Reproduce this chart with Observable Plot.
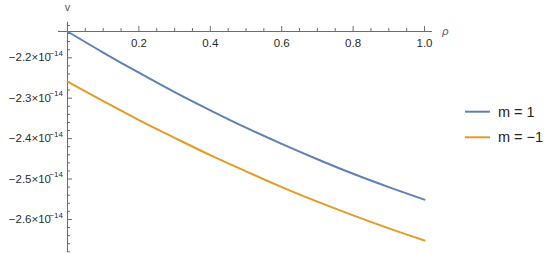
<!DOCTYPE html>
<html>
<head>
<meta charset="utf-8">
<script src="https://cdn.jsdelivr.net/npm/d3@7"></script>
<script src="https://cdn.jsdelivr.net/npm/@observablehq/plot@0.6"></script>
<style>
  html, body { margin: 0; padding: 0; background: #fff; }
  #chart { position: relative; width: 550px; height: 257px; }
</style>
</head>
<body>
<div id="chart"></div>
<script>
// ---- data (values in units of 1e-14) ----
const rho   = [0, 0.1, 0.2, 0.3, 0.4, 0.5, 0.6, 0.7, 0.8, 0.9, 1.0];
const vM1   = [-2.135, -2.187, -2.237, -2.285, -2.330, -2.373, -2.413, -2.451, -2.487, -2.520, -2.551];
const vMm1  = [-2.259, -2.307, -2.354, -2.398, -2.441, -2.481, -2.520, -2.556, -2.590, -2.622, -2.652];
const seriesNames  = ["m = 1", "m = \u22121"];
const seriesColors = ["#5E81B5", "#E19C24"];

const yMajor = [-2.2, -2.3, -2.4, -2.5, -2.6];
const yMajorLabels = ["\u22122.2\u00d710", "\u22122.3\u00d710", "\u22122.4\u00d710", "\u22122.5\u00d710", "\u22122.6\u00d710"];
const yExponent = "\u221214";
const yMinor = [-2.12, -2.14, -2.16, -2.18, -2.22, -2.24, -2.26, -2.28, -2.32, -2.34, -2.36, -2.38,
                -2.42, -2.44, -2.46, -2.48, -2.52, -2.54, -2.56, -2.58, -2.62, -2.64, -2.66, -2.68];
const xMajor = [0.2, 0.4, 0.6, 0.8, 1.0];
const xMajorLabels = ["0.2", "0.4", "0.6", "0.8", "1.0"];
const xMinor = [0.05, 0.1, 0.15, 0.25, 0.3, 0.35, 0.45, 0.5, 0.55, 0.65, 0.7, 0.75, 0.85, 0.9, 0.95];

// axis extents / crossing
const yTop = -2.112, yBottom = -2.681;
const xLeft = -0.0252, xRight = 1.0224;
const xAxisAt = -2.135;

const rows = [];
rho.forEach((r, i) => {
  rows.push({rho: r, v: vM1[i], s: seriesNames[0]});
  rows.push({rho: r, v: vMm1[i], s: seriesNames[1]});
});

const axisColor = "#6b6b6b";
const labelColor = "#2a2a2a";
const font = "'Liberation Sans', Arial, sans-serif";

const plot = Plot.plot({
  width: 550,
  height: 257,
  marginLeft: 58,
  marginRight: 118,
  marginTop: 21.7,
  marginBottom: 5.3,
  style: {fontFamily: font, background: "#fff", overflow: "visible"},
  x: {domain: [xLeft, xRight], axis: null},
  y: {domain: [yBottom, yTop], axis: null},
  color: {domain: seriesNames, range: seriesColors},
  marks: [
    // axes lines
    Plot.ruleX([0], {y1: yTop, y2: yBottom, stroke: axisColor, strokeWidth: 1}),
    Plot.ruleY([xAxisAt], {x1: xLeft, x2: xRight, stroke: axisColor, strokeWidth: 1}),
    // y ticks (pointing right)
    Plot.ruleY(yMajor, {x1: 0, x2: 0, insetRight: -5, stroke: axisColor}),
    Plot.ruleY(yMinor, {x1: 0, x2: 0, insetRight: -3, stroke: axisColor}),
    // x ticks (pointing up)
    Plot.ruleX([0, ...xMajor], {y1: xAxisAt, y2: xAxisAt, insetBottom: 5, stroke: axisColor}),
    Plot.ruleX(xMinor, {y1: xAxisAt, y2: xAxisAt, insetBottom: 3, stroke: axisColor}),
    // y tick labels
    Plot.text(yMajor, {x: 0, y: d => d, text: (d, i) => yMajorLabels[i], textAnchor: "end", dx: -16.5, fontSize: 11.5, fill: labelColor}),
    Plot.text(yMajor, {x: 0, y: d => d, text: () => yExponent, textAnchor: "end", dx: -4.5, dy: -4.5, fontSize: 8, fill: labelColor}),
    // x tick labels
    Plot.text(xMajor, {x: d => d, y: xAxisAt, text: (d, i) => xMajorLabels[i], dy: 12, fontSize: 11.5, fill: labelColor}),
    // axis labels
    Plot.text(["v"], {x: 0, y: yTop, text: d => d, dy: -14.5, fontSize: 11, fill: "#555"}),
    Plot.text(["\u03c1"], {x: xRight, y: xAxisAt, text: d => d, dx: 13, dy: 0, fontSize: 11, fontStyle: "italic", fill: "#555"}),
    // data
    Plot.line(rows, {x: "rho", y: "v", z: "s", stroke: "s", strokeWidth: 2, curve: "monotone-x"})
  ]
});

document.getElementById("chart").appendChild(plot);

// legend
const svg = d3.select(plot);
const lg = svg.append("g").attr("font-family", font).attr("font-size", 14.5).attr("text-anchor", "start");
seriesNames.forEach((name, i) => {
  const cy = 111.7 + i * 25.6;
  lg.append("line").attr("x1", 465).attr("x2", 490).attr("y1", cy).attr("y2", cy)
    .attr("stroke", seriesColors[i]).attr("stroke-width", 2);
  lg.append("text").attr("x", 498).attr("y", cy).attr("dy", "0.35em")
    .attr("fill", "#222").text(name);
});
</script>
</body>
</html>
